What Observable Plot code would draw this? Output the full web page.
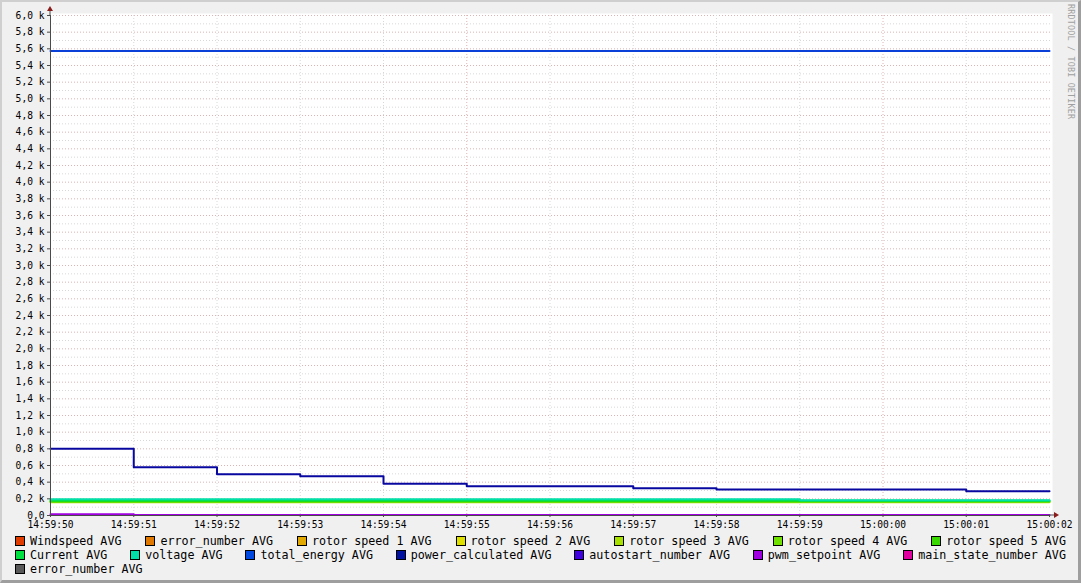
<!DOCTYPE html>
<html><head><meta charset="utf-8">
<script src="https://cdn.jsdelivr.net/npm/d3@7"></script>
<script src="https://cdn.jsdelivr.net/npm/@observablehq/plot@0.6"></script>
<style>
html,body{margin:0;padding:0;background:#f0f0f0;}
#wrap{position:relative;width:1081px;height:583px;background:#f0f0f0;overflow:hidden;font-family:"DejaVu Sans Mono",monospace;color:#000;}
#wrap::after{content:"";position:absolute;left:0;top:0;right:0;bottom:0;box-sizing:border-box;border-top:2px solid #cfcfcf;border-left:2px solid #cfcfcf;border-right:3px solid #9e9e9e;border-bottom:3px solid #9e9e9e;pointer-events:none;}
#chart{position:absolute;left:0;top:0;}
#legend{position:absolute;left:15px;top:534px;width:1051px;font-size:11.7px;}
.row{display:flex;justify-content:space-between;height:14px;line-height:14px;white-space:pre;}
.row.left{justify-content:flex-start;}
.item{display:flex;align-items:center;}
.sw{display:inline-block;width:8px;height:8px;border:1px solid #000;margin-right:5px;}
#wm{position:absolute;left:1066px;top:4px;writing-mode:vertical-rl;font-size:8.4px;color:#a0a0a0;letter-spacing:0.2px;}
</style></head>
<body>
<div id="wrap"><div id="chart"></div><div id="legend"></div><div id="wm">RRDTOOL / TOBI OETIKER</div></div>
<script>
// ---- data ----
const timeLabels = ["14:59:50","14:59:51","14:59:52","14:59:53","14:59:54","14:59:55","14:59:56","14:59:57","14:59:58","14:59:59","15:00:00","15:00:01","15:00:02"];
const totalEnergy     = [5575,5575,5575,5575,5575,5575,5575,5575,5575,5575,5575,5575,5575];
const powerCalculated = [800,580,496,472,380,352,352,328,312,312,312,292,292];
const voltage         = [195,195,195,195,195,195,195,195,195,184,184,184,184];
const current         = [180,180,180,180,180,180,180,180,180,178,178,178,178];
const rotorSpeed5     = [170,170,170,170,170,170,170,170,170,170,170,170,170];
const rotorSpeed4     = [165,165,165,165,165,165,165,165,165,165,165,165,165];
const rotorSpeed3     = [160,160,160,160,160,160,160,160,160,160,160,160,160];
const pwmSetpoint     = [14,6,6,6,6,6,6,6,6,6,6,6,6];

const legendNames  = ["Windspeed AVG","error_number AVG","rotor speed 1 AVG","rotor speed 2 AVG","rotor speed 3 AVG","rotor speed 4 AVG","rotor speed 5 AVG","Current AVG","voltage AVG","total_energy AVG","power_calculated AVG","autostart_number AVG","pwm_setpoint AVG","main_state_number AVG","error_number AVG "];
const legendColors = ["#e03c00","#e07800","#e0a800","#e0e000","#a8e000","#70e000","#38d800","#00e040","#00e0a8","#0048e0","#0010a0","#4000e0","#a000e0","#e000a0","#585858"];
const legendRows   = [7,7,1];

const lineSeries = [
  {name:"rotor speed 3 AVG", values: rotorSpeed3},
  {name:"rotor speed 4 AVG", values: rotorSpeed4},
  {name:"rotor speed 5 AVG", values: rotorSpeed5},
  {name:"Current AVG", values: current},
  {name:"voltage AVG", values: voltage},
  {name:"total_energy AVG", values: totalEnergy},
  {name:"power_calculated AVG", values: powerCalculated},
  {name:"pwm_setpoint AVG", values: pwmSetpoint}
];
const lineColors = {"total_energy AVG":"#0a40d8","power_calculated AVG":"#0808a0"};

// ---- build ----
const parse = d3.timeParse("%H:%M:%S");
const T = timeLabels.map(parse);
const rows = lineSeries.flatMap(s => s.values.map((v,i) => ({name:s.name, t:T[i], v})));
const names = lineSeries.map(s => s.name);
const colors = names.map(n => lineColors[n] || legendColors[legendNames.indexOf(n)]);

const majorY = d3.range(200, 6001, 200);
const minorY = d3.range(100, 6000, 200);
const majorSec = ["14:59:55","15:00:00"].map(parse);
const minorSec = T.filter((d,i) => i > 0 && i < T.length-1 && !majorSec.some(m => +m === +d));

const yFmt = d => d === 0 ? "0,0" : (d/1000).toFixed(1).replace(".", ",") + " k";

const plot = Plot.plot({
  width: 1081, height: 530,
  marginLeft: 50, marginRight: 32, marginTop: 15, marginBottom: 15,
  x: {type: "time", domain: [T[0], T[T.length-1]], label: null},
  y: {domain: [0, 6000], label: null},
  color: {domain: names, range: colors},
  style: {background: "transparent", fontFamily: "DejaVu Sans Mono", fontSize: "9.6px", color: "#000"},
  marks: [
    Plot.frame({fill: "white", stroke: null, insetRight: -3, insetTop: -2}),
    Plot.ruleY(minorY, {stroke: "#d8d8d8", strokeDasharray: "1,2", insetRight: -3}),
    Plot.ruleY(majorY, {stroke: "#dcb4b4", strokeDasharray: "1,2", insetRight: -3}),
    Plot.ruleX(minorSec, {stroke: "#d8d8d8", strokeDasharray: "1,2"}),
    Plot.ruleX(majorSec, {stroke: "#dcb4b4", strokeDasharray: "1,2"}),
    Plot.line(rows, {x: "t", y: "v", z: "name", stroke: "name", curve: "step-after", strokeWidth: 2}),
    Plot.axisY({ticks: d3.range(0, 6001, 200), tickFormat: yFmt, tickSize: 3, tickPadding: 3, stroke: "#4a4a4a", label: null}),
    Plot.axisX({ticks: T, tickFormat: d3.timeFormat("%H:%M:%S"), tickSize: 2, tickPadding: 4, stroke: "#4a4a4a", label: null}),
    Plot.ruleY([0], {stroke: "#4a4a4a"}),
    Plot.ruleX([T[0]], {stroke: "#4a4a4a"})
  ]
});
document.getElementById("chart").appendChild(plot);

// axis arrows from the scales
const xs = plot.scale("x"), ys = plot.scale("y");
const x0 = xs.apply(T[0]), x1 = xs.apply(T[T.length-1]);
const y0 = ys.apply(0), y1 = ys.apply(6000);
const g = d3.select(plot).append("g");
g.append("line").attr("x1", x0).attr("x2", x0).attr("y1", y1).attr("y2", y1 - 5).attr("stroke", "#4a4a4a");
g.append("line").attr("x1", x1).attr("x2", x1 + 6).attr("y1", y0).attr("y2", y0).attr("stroke", "#4a4a4a");
g.append("path").attr("d", `M${x0-3},${y1-4}L${x0+3},${y1-4}L${x0},${y1-9}Z`).attr("fill", "#8a1c1c");
g.append("path").attr("d", `M${x1+5},${y0-3}L${x1+5},${y0+3}L${x1+10},${y0}Z`).attr("fill", "#8a1c1c");

// legend
const leg = document.getElementById("legend");
let k = 0;
legendRows.forEach((n, r) => {
  const row = document.createElement("div");
  row.className = "row" + (r === legendRows.length-1 ? " left" : "");
  for (let j = 0; j < n; j++, k++) {
    const it = document.createElement("div"); it.className = "item";
    const sw = document.createElement("span"); sw.className = "sw"; sw.style.background = legendColors[k];
    const tx = document.createElement("span"); tx.textContent = legendNames[k].trim();
    it.appendChild(sw); it.appendChild(tx); row.appendChild(it);
  }
  leg.appendChild(row);
});
</script>
</body></html>
